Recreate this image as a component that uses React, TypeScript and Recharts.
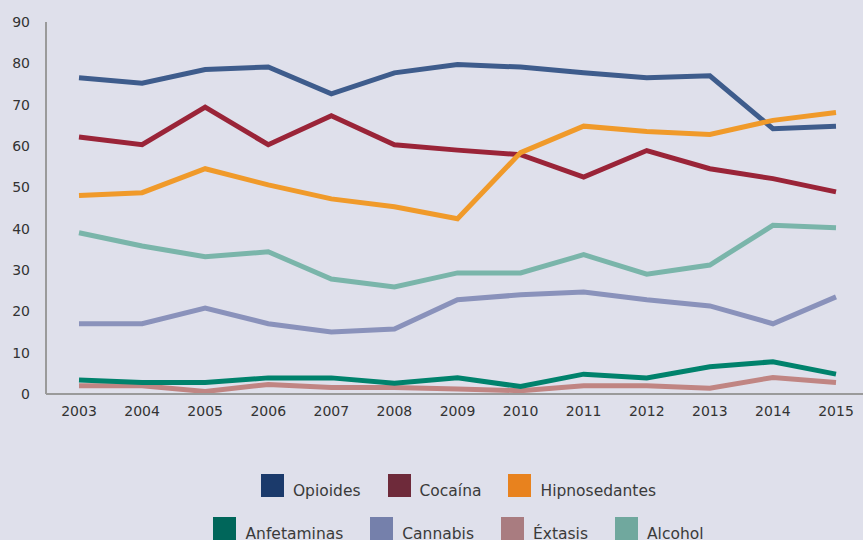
import { Legend, Line, LineChart, XAxis, YAxis } from 'recharts'

const years = ['2003', '2004', '2005', '2006', '2007', '2008', '2009', '2010', '2011', '2012', '2013', '2014', '2015']

const opioides = [76.5, 75.2, 78.5, 79.1, 72.6, 77.7, 79.7, 79.1, 77.7, 76.5, 77.0, 64.2, 64.8]
const cocaina = [62.2, 60.3, 69.4, 60.3, 67.3, 60.3, 59.0, 57.9, 52.5, 58.9, 54.5, 52.1, 48.9]
const hipnosedantes = [48.0, 48.7, 54.5, 50.6, 47.2, 45.3, 42.4, 58.4, 64.8, 63.5, 62.8, 66.2, 68.1]
const anfetaminas = [3.4, 2.8, 2.8, 3.9, 3.9, 2.6, 3.9, 1.8, 4.8, 3.9, 6.6, 7.8, 4.8]
const cannabis = [17.0, 17.0, 20.8, 17.0, 15.0, 15.7, 22.8, 24.0, 24.7, 22.8, 21.3, 17.0, 23.5]
const extasis = [2.0, 2.0, 0.6, 2.3, 1.6, 1.6, 1.2, 0.8, 2.0, 2.0, 1.4, 4.0, 2.8]
const alcohol = [39.0, 35.8, 33.2, 34.4, 27.8, 25.9, 29.3, 29.3, 33.7, 29.0, 31.2, 40.8, 40.2]

const yTicks = [0, 10, 20, 30, 40, 50, 60, 70, 80, 90]

const series = [
  { key: 'Alcohol', values: alcohol, line: '#7ab5aa', swatch: '#70a89e' },
  { key: 'Cannabis', values: cannabis, line: '#8a92bb', swatch: '#7580ab' },
  { key: 'Éxtasis', values: extasis, line: '#c08583', swatch: '#a97c80' },
  { key: 'Anfetaminas', values: anfetaminas, line: '#00826c', swatch: '#00665a' },
  { key: 'Cocaína', values: cocaina, line: '#9a2438', swatch: '#6e2a3a' },
  { key: 'Opioides', values: opioides, line: '#3e5c8c', swatch: '#1b3a6b' },
  { key: 'Hipnosedantes', values: hipnosedantes, line: '#f09a2a', swatch: '#e8821e' },
]

const legendRows = [
  ['Opioides', 'Cocaína', 'Hipnosedantes'],
  ['Anfetaminas', 'Cannabis', 'Éxtasis', 'Alcohol'],
]

const data = years.map((year, i) => {
  const row: Record<string, string | number> = { year }
  series.forEach((s) => {
    row[s.key] = s.values[i]
  })
  return row
})

const font = '"DejaVu Sans", sans-serif'

function LegendBlock() {
  return (
    <div style={{ fontFamily: font, fontSize: 15.5, color: '#3a3a3a' }}>
      {legendRows.map((row, r) => (
        <div
          key={r}
          style={{ display: 'flex', justifyContent: 'center', gap: 27, height: 43, alignItems: 'flex-start' }}
        >
          {row.map((name) => {
            const s = series.find((x) => x.key === name)!
            return (
              <div key={name} style={{ display: 'flex', alignItems: 'center', gap: 9 }}>
                <span style={{ width: 23, height: 23, background: s.swatch, display: 'inline-block' }} />
                <span style={{ position: 'relative', top: 5 }}>{name}</span>
              </div>
            )
          })}
        </div>
      ))}
    </div>
  )
}

export default function App() {
  return (
    <div style={{ position: 'absolute', left: 0, top: 0, width: 863, height: 540, background: '#dfe0eb', overflow: 'hidden' }}>
      <LineChart width={863} height={540} data={data} margin={{ top: 22, right: 0, left: 0, bottom: 0 }}>
        <XAxis
          dataKey="year"
          height={146}
          padding={{ left: 33, right: 27 }}
          tickLine={false}
          tickSize={0}
          tickMargin={12}
          axisLine={{ stroke: '#9a9a9a', strokeWidth: 2 }}
          tick={{ fill: '#333', fontSize: 14, fontFamily: font }}
          interval={0}
        />
        <YAxis
          width={46}
          domain={[0, 90]}
          ticks={yTicks}
          tickLine={false}
          tickSize={0}
          tickMargin={16}
          axisLine={{ stroke: '#9a9a9a', strokeWidth: 2 }}
          tick={{ fill: '#333', fontSize: 14, fontFamily: font }}
        />
        <Legend
          layout="horizontal"
          verticalAlign="middle"
          align="center"
          wrapperStyle={{ top: 474, left: 27, width: 863 }}
          content={() => <LegendBlock />}
        />
        {series.map((s) => (
          <Line
            key={s.key}
            type="linear"
            dataKey={s.key}
            stroke={s.line}
            strokeWidth={5}
            dot={false}
            isAnimationActive={false}
          />
        ))}
      </LineChart>
    </div>
  )
}
